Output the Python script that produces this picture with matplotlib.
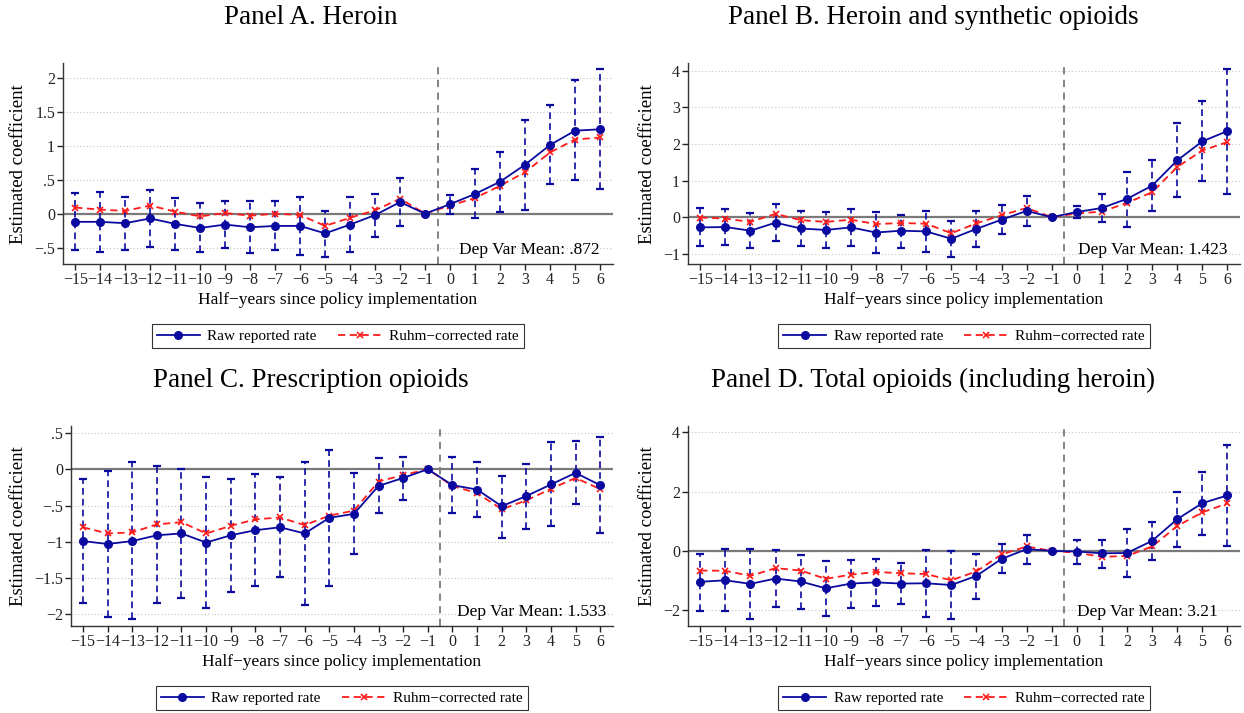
import matplotlib
matplotlib.use("Agg")
import matplotlib.pyplot as plt
from matplotlib.ticker import FixedLocator, FuncFormatter
import numpy as np

plt.rcParams['font.family'] = ['Liberation Serif', 'DejaVu Serif']

# half-years since policy implementation
periods = list(range(-15, 7))

# Panel A. Heroin
heroin_raw = [-0.12, -0.12, -0.14, -0.07, -0.15, -0.21, -0.16, -0.20, -0.18, -0.18, -0.29,
              -0.16, -0.02, 0.17, 0.0, 0.14, 0.29, 0.47, 0.72, 1.01, 1.22, 1.24]
heroin_hi = [0.30, 0.32, 0.25, 0.35, 0.23, 0.15, 0.19, 0.18, 0.19, 0.24, 0.04,
             0.25, 0.29, 0.53, None, 0.28, 0.65, 0.91, 1.38, 1.60, 1.96, 2.12]
heroin_lo = [-0.53, -0.56, -0.53, -0.49, -0.53, -0.56, -0.51, -0.58, -0.54, -0.61, -0.64,
             -0.57, -0.35, -0.18, None, -0.01, -0.06, 0.03, 0.06, 0.43, 0.49, 0.37]
heroin_ruhm = [0.09, 0.06, 0.04, 0.12, 0.03, -0.04, 0.01, -0.03, 0.0, -0.02, -0.18,
               -0.06, 0.05, 0.22, 0.0, 0.12, 0.23, 0.41, 0.61, 0.90, 1.09, 1.12]

# Panel B. Heroin and synthetic opioids
synth_raw = [-0.28, -0.27, -0.37, -0.15, -0.31, -0.35, -0.28, -0.42, -0.37, -0.39, -0.59,
             -0.32, -0.07, 0.17, 0.0, 0.14, 0.25, 0.50, 0.86, 1.55, 2.07, 2.35]
synth_hi = [0.24, 0.23, 0.12, 0.36, 0.17, 0.13, 0.22, 0.13, 0.07, 0.16, -0.10,
            0.16, 0.32, 0.58, None, 0.30, 0.62, 1.22, 1.55, 2.58, 3.16, 4.04]
synth_lo = [-0.79, -0.77, -0.85, -0.65, -0.79, -0.84, -0.79, -0.99, -0.83, -0.94, -1.10,
            -0.81, -0.45, -0.23, None, -0.02, -0.13, -0.26, 0.17, 0.54, 0.98, 0.63]
synth_ruhm = [-0.01, -0.04, -0.13, 0.09, -0.08, -0.13, -0.07, -0.19, -0.16, -0.18, -0.44,
              -0.17, 0.05, 0.25, 0.0, 0.10, 0.15, 0.39, 0.68, 1.37, 1.82, 2.05]

# Panel C. Prescription opioids
rx_raw = [-0.99, -1.03, -0.99, -0.91, -0.885, -1.01, -0.91, -0.84, -0.80, -0.885, -0.67,
          -0.615, -0.23, -0.12, 0.0, -0.22, -0.28, -0.51, -0.37, -0.21, -0.05, -0.22]
rx_hi = [-0.13, -0.02, 0.10, 0.04, 0.0, -0.11, -0.13, -0.06, -0.11, 0.10, 0.27,
         -0.05, 0.15, 0.17, None, 0.165, 0.10, -0.09, 0.07, 0.37, 0.39, 0.445]
rx_lo = [-1.84, -2.04, -2.07, -1.84, -1.77, -1.91, -1.69, -1.61, -1.48, -1.87, -1.61,
         -1.17, -0.61, -0.42, None, -0.60, -0.66, -0.945, -0.82, -0.78, -0.48, -0.885]
rx_ruhm = [-0.80, -0.885, -0.87, -0.76, -0.73, -0.885, -0.78, -0.69, -0.665, -0.77, -0.64,
           -0.57, -0.17, -0.08, 0.0, -0.23, -0.33, -0.55, -0.43, -0.27, -0.12, -0.275]

# Panel D. Total opioids (including heroin)
total_raw = [-1.04, -0.99, -1.11, -0.93, -1.03, -1.26, -1.10, -1.06, -1.10, -1.09, -1.15,
             -0.84, -0.27, 0.06, 0.0, -0.02, -0.08, -0.07, 0.34, 1.07, 1.61, 1.87]
total_hi = [-0.09, 0.05, 0.08, 0.02, -0.13, -0.34, -0.30, -0.26, -0.40, 0.04, 0.01,
            -0.09, 0.22, 0.53, None, 0.38, 0.38, 0.73, 0.99, 2.00, 2.67, 3.57]
total_lo = [-2.02, -2.02, -2.31, -1.89, -1.96, -2.18, -1.92, -1.85, -1.79, -2.21, -2.31,
            -1.62, -0.74, -0.43, None, -0.43, -0.56, -0.87, -0.29, 0.12, 0.54, 0.17]
total_ruhm = [-0.66, -0.67, -0.84, -0.58, -0.66, -0.94, -0.80, -0.71, -0.75, -0.78, -0.99,
              -0.69, -0.12, 0.15, 0.0, -0.06, -0.20, -0.17, 0.15, 0.84, 1.30, 1.60]

titles = ["Panel A. Heroin", "Panel B. Heroin and synthetic opioids",
          "Panel C. Prescription opioids", "Panel D. Total opioids (including heroin)"]
dep_means = ["Dep Var Mean: .872", "Dep Var Mean: 1.423", "Dep Var Mean: 1.533", "Dep Var Mean: 3.21"]
yticks = [[-0.5, 0, 0.5, 1, 1.5, 2], [-1, 0, 1, 2, 3, 4],
          [-2, -1.5, -1, -0.5, 0, 0.5], [-2, 0, 2, 4]]
ylims = [(-0.74, 2.21), (-1.28, 4.2), (-2.16, 0.6), (-2.53, 4.22)]
text_x = [0.37, 0.04, 0.17, 0.0]

panels = [(heroin_raw, heroin_lo, heroin_hi, heroin_ruhm),
          (synth_raw, synth_lo, synth_hi, synth_ruhm),
          (rx_raw, rx_lo, rx_hi, rx_ruhm),
          (total_raw, total_lo, total_hi, total_ruhm)]

blue = "#0a0aa0"
red = "#ff1a1a"


def stata_fmt(v, pos):
    s = ("%g" % v)
    if s.startswith("0."):
        s = s[1:]
    elif s.startswith("-0."):
        s = "-" + s[2:]
    return s.replace("-", "\u2212")


fig = plt.figure(figsize=(12.44, 7.13), dpi=100)
rects = [[0.0504, 0.6297, 0.4420, 0.2815], [0.5528, 0.6297, 0.4440, 0.2815],
         [0.0568, 0.1220, 0.4356, 0.2810], [0.5528, 0.1220, 0.4440, 0.2810]]
title_pos = [(0.25, 0.975), (0.75, 0.975), (0.25, 0.466), (0.75, 0.466)]

x = np.array(periods)
for i, (raw, lo, hi, ruhm) in enumerate(panels):
    ax = fig.add_axes(rects[i])
    lo = np.array(lo, dtype=float)
    hi = np.array(hi, dtype=float)
    m = ~np.isnan(lo)

    ax.yaxis.grid(True, linestyle=(0, (1, 2)), color="#c4c4c4", lw=0.8)
    ax.set_axisbelow(True)
    ax.axhline(0, color="#7a7a7a", lw=1.6, zorder=1)
    ax.axvline(-0.5, color="#7a7a7a", lw=1.3, linestyle=(0, (4, 3)), zorder=1)

    # confidence intervals
    ax.vlines(x[m], lo[m], hi[m], colors=blue, linestyles=(0, (4, 2.5)), lw=1.2, zorder=2)
    ax.plot(x[m], lo[m], ls="none", marker="_", ms=6, mew=1.6, color=blue, zorder=2)
    ax.plot(x[m], hi[m], ls="none", marker="_", ms=6, mew=1.6, color=blue, zorder=2)

    l1, = ax.plot(x, raw, color=blue, lw=1.3, marker="o", ms=5.5, zorder=4,
                  label="Raw reported rate")
    l2, = ax.plot(x, ruhm, color=red, lw=1.3, ls=(0, (4, 2.5)), marker="x", ms=5, mew=1.2,
                  zorder=3, label="Ruhm\u2212corrected rate")

    ax.set_xlim(-15.5, 6.5)
    ax.set_ylim(*ylims[i])
    ax.set_xticks(periods)
    ax.xaxis.set_major_formatter(FuncFormatter(lambda v, p: str(int(v)).replace("-", "\u2212")))
    ax.yaxis.set_major_locator(FixedLocator(yticks[i]))
    ax.yaxis.set_major_formatter(FuncFormatter(stata_fmt))

    for s in ["top", "right"]:
        ax.spines[s].set_visible(False)
    for s in ["left", "bottom"]:
        ax.spines[s].set_color("#333333")
        ax.spines[s].set_linewidth(1.0)
    ax.tick_params(direction="out", length=4, width=1, labelsize=11.5, pad=1.5, colors="#222222")

    ax.set_ylabel("Estimated coefficient", fontsize=13.5, labelpad=5)
    ax.set_xlabel("Half\u2212years since policy implementation", fontsize=12.5, labelpad=3)

    ax.text(text_x[i], 0.07, dep_means[i], transform=ax.get_xaxis_transform(),
            ha="left", va="center", fontsize=12.5, zorder=5)

    leg = ax.legend(handles=[l1, l2], loc="center", bbox_to_anchor=(0.5, -0.36), ncol=2,
                    fontsize=11, frameon=True, fancybox=False, edgecolor="black",
                    handlelength=2.8, columnspacing=1.4, borderpad=0.35, handletextpad=0.5,
                    borderaxespad=0)
    leg.get_frame().set_linewidth(0.8)

    fig.text(title_pos[i][0], title_pos[i][1], titles[i], ha="center", va="center", fontsize=19.5)

fig.savefig("out.png", dpi=100)
